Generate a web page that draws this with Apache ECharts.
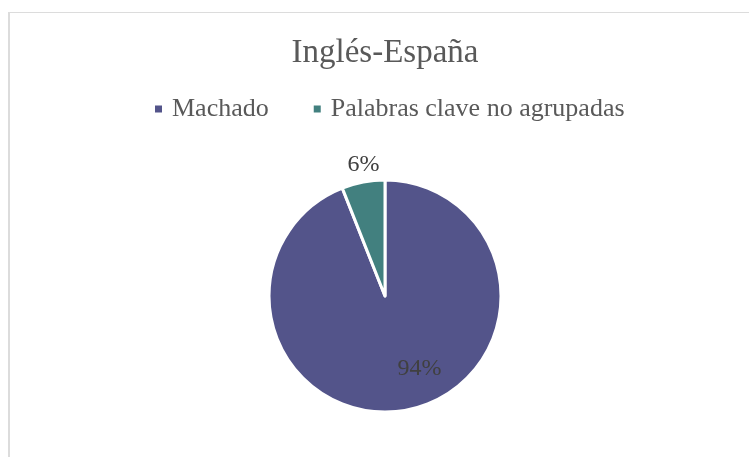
<!DOCTYPE html>
<html><head><meta charset="utf-8">
<script src="https://cdn.jsdelivr.net/npm/echarts@6/dist/echarts.min.js"></script>
<style>html,body{margin:0;padding:0;background:#fff}#c{width:749px;height:457px}</style>
</head><body><div id="c"></div>
<script>
const titleText = 'Inglés-España';
const categories = ['Machado', 'Palabras clave no agrupadas'];
const values = [94, 6];
const colors = ['#53548A', '#42807F'];
const FONT = 'Liberation Serif';

const chart = echarts.init(document.getElementById('c'));
chart.setOption({
  animation: false,
  backgroundColor: '#ffffff',
  graphic: [
    { type: 'line', silent: true, shape: { x1: 9, y1: 12, x2: 9, y2: 460 },
      style: { stroke: '#dcdcdc', lineWidth: 2 } },
    { type: 'line', silent: true, shape: { x1: 8, y1: 12.5, x2: 760, y2: 12.5 },
      style: { stroke: '#dcdcdc', lineWidth: 1 } }
  ],
  title: {
    text: titleText, left: 380, textAlign: 'center', top: 32,
    textStyle: { fontFamily: FONT, fontSize: 33, fontWeight: 'normal', color: '#595959' }
  },
  legend: {
    data: categories, left: 150, top: 91,
    icon: 'rect', itemWidth: 7, itemHeight: 7, itemGap: 45,
    itemStyle: { borderWidth: 0 },
    textStyle: { fontFamily: FONT, fontSize: 26, color: '#595959', padding: [0, 0, 0, 5] }
  },
  series: [{
    type: 'pie',
    center: [385, 296],
    radius: 116,
    startAngle: 90,
    clockwise: true,
    itemStyle: { borderColor: '#ffffff', borderWidth: 3 },
    label: {
      formatter: '{d}%', fontFamily: FONT, fontSize: 24, color: '#404040'
    },
    labelLine: { show: false, length: 10, length2: 0 },
    labelLayout: function (p) {
      if (p.dataIndex === 0) return { dx: 23, dy: 13 };
      return { dx: 23, dy: -8 };
    },
    data: categories.map((n, i) => ({
      name: n, value: values[i],
      itemStyle: { color: colors[i] },
      label: { position: i === 0 ? 'inside' : 'outside' }
    }))
  }]
});
</script></body></html>
